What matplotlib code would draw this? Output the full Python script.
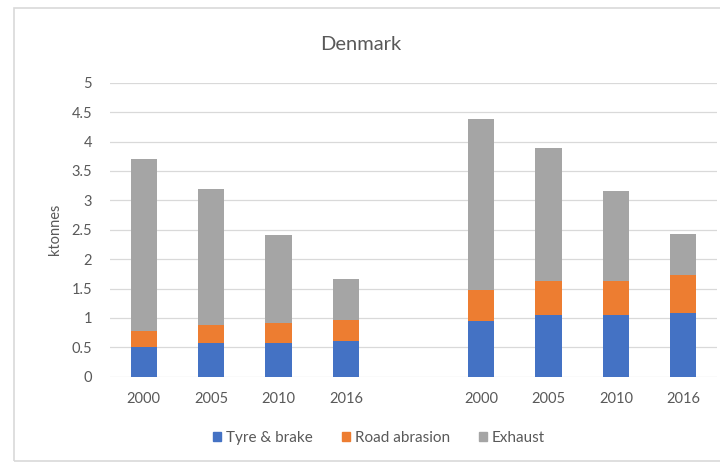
import matplotlib.pyplot as plt
from matplotlib.patches import Rectangle, Patch
import numpy as np

plt.rcParams['font.family'] = ['Lato', 'DejaVu Sans']

# two groups of four years, with an empty slot between them
years = ['2000', '2005', '2010', '2016', '2000', '2005', '2010', '2016']
slots = [0, 1, 2, 3, 5, 6, 7, 8]

tyre_brake = [0.50, 0.57, 0.57, 0.60, 0.94, 1.05, 1.05, 1.09]
road_abrasion = [0.27, 0.31, 0.34, 0.36, 0.53, 0.57, 0.57, 0.64]
exhaust = [2.94, 2.31, 1.50, 0.70, 2.91, 2.27, 1.54, 0.69]

c_blue = '#4472C4'
c_orange = '#ED7D31'
c_gray = '#A5A5A5'
txt = '#595959'

fig = plt.figure(figsize=(7.2, 4.62), dpi=100)
# chart-area frame
fig.patches.append(Rectangle((14/720, 1/462), 720, (453)/462, transform=fig.transFigure,
                             fill=False, edgecolor='#D9D9D9', linewidth=1.2))

ax = fig.add_axes([110/720, 85.3/462, 607/720, 294/462])

x = np.array(slots)
w = 0.39
tb = np.array(tyre_brake)
ra = np.array(road_abrasion)
ex = np.array(exhaust)
ax.bar(x, tb, w, color=c_blue, zorder=3)
ax.bar(x, ra, w, bottom=tb, color=c_orange, zorder=3)
ax.bar(x, ex, w, bottom=tb + ra, color=c_gray, zorder=3)

ax.set_xlim(-0.5, 8.5)
ax.set_ylim(0, 5)
ax.set_yticks(np.arange(0, 5.01, 0.5))
ax.set_yticklabels(['0', '0.5', '1', '1.5', '2', '2.5', '3', '3.5', '4', '4.5', '5'])
ax.set_xticks(x)
ax.set_xticklabels(years)
ax.tick_params(axis='both', length=0, labelsize=10.5, labelcolor=txt)
ax.tick_params(axis='y', pad=13)
ax.tick_params(axis='x', pad=11)
ax.grid(axis='y', color='#D9D9D9', linewidth=0.9, zorder=0)
for s in ax.spines.values():
    s.set_visible(False)

ax.set_ylabel('ktonnes', fontsize=10.5, color=txt, labelpad=7)
fig.text(361/720, 1 - 45/462, 'Denmark', ha='center', va='center',
         fontsize=14.5, color=txt)

handles = [Patch(color=c_blue, label='Tyre & brake'),
           Patch(color=c_orange, label='Road abrasion'),
           Patch(color=c_gray, label='Exhaust')]
fig.legend(handles=handles, loc='center', bbox_to_anchor=(379/720, 1 - 438/462),
           ncol=3, frameon=False, fontsize=11, labelcolor=txt,
           handlelength=0.55, handleheight=0.55, handletextpad=0.3, columnspacing=1.9)

fig.savefig('out.png', dpi=100)
